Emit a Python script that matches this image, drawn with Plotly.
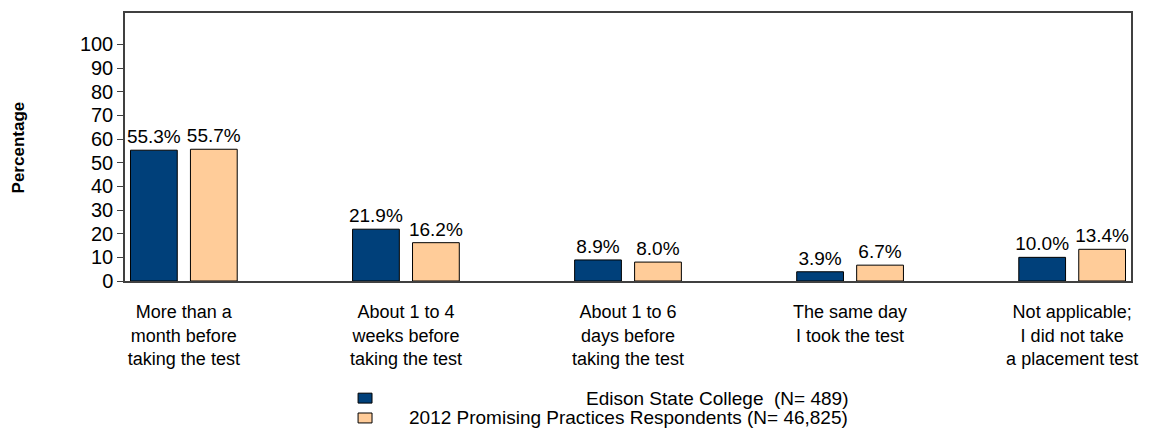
import plotly.graph_objects as go

categories = [
    "More than a<br>month before<br>taking the test",
    "About 1 to 4<br>weeks before<br>taking the test",
    "About 1 to 6<br>days before<br>taking the test",
    "The same day<br>I took the test",
    "Not applicable;<br>I did not take<br>a placement test",
]
edison = [55.3, 21.9, 8.9, 3.9, 10.0]
promising = [55.7, 16.2, 8.0, 6.7, 13.4]
series_names = ["Edison State College\u00a0 (N= 489)",
                "2012 Promising Practices Respondents (N= 46,825)"]
colors = ["#00407A", "#FFCC99"]
y_ticks = list(range(0, 101, 10))

W, H = 1149, 429
L, R, T, B = 125, 14, 11, 148
PW, PH = W - L - R, H - T - B

def px(x):
    return (x - L) / PW

def py(y):
    return (H - B - y) / PH

FONT = "Arial, Liberation Sans, sans-serif"
xs = list(range(len(categories)))

fig = go.Figure()
for name, vals, col in zip(series_names, [edison, promising], colors):
    fig.add_trace(go.Bar(
        x=xs, y=vals, name=name,
        marker=dict(color=col, line=dict(color="#000000", width=1)),
        text=[f"{v:.1f}%" for v in vals],
        textposition="outside",
        constraintext="none",
        textfont=dict(family=FONT, size=19, color="#000000"),
        cliponaxis=False,
        showlegend=False,
    ))

fig.update_layout(
    width=W, height=H,
    margin=dict(l=L, r=R, t=T, b=B),
    paper_bgcolor="white", plot_bgcolor="white",
    barmode="group", bargap=0.46, bargroupgap=0.22,
    font=dict(family=FONT, color="#000000"),
    xaxis=dict(
        tickmode="array", tickvals=xs, ticktext=categories,
        range=[-0.265, 4.265],
        showline=True, linecolor="#404040", linewidth=1.5, mirror=True,
        ticks="", showgrid=False, zeroline=False,
        tickfont=dict(family=FONT, size=18, color="#000000"),
        ticklabelstandoff=14,
    ),
    yaxis=dict(
        range=[0, 113.3],
        tickmode="array", tickvals=y_ticks, ticktext=[str(v) for v in y_ticks],
        showline=True, linecolor="#404040", linewidth=1.5, mirror=True,
        ticks="outside", ticklen=6, tickcolor="#404040",
        showgrid=False, zeroline=False,
        tickfont=dict(family=FONT, size=20, color="#000000"),
    ),
)

# y-axis title
fig.add_annotation(
    x=px(18), y=0.5, xref="paper", yref="paper",
    text="<b>Percentage</b>", textangle=-90, showarrow=False,
    font=dict(family=FONT, size=17, color="#000000"),
    xanchor="center", yanchor="middle",
)

# legend (squares + right-aligned text)
for i, (name, col) in enumerate(zip(series_names, colors)):
    yc = 399 + 20 * i
    fig.add_shape(
        type="rect", xref="paper", yref="paper",
        x0=px(359), x1=px(373), y0=py(yc - 5), y1=py(yc + 5),
        fillcolor=col, line=dict(color="#000000", width=1),
    )
    fig.add_annotation(
        x=px(853), y=py(yc), xref="paper", yref="paper",
        text=name, showarrow=False, xanchor="right", yanchor="middle",
        font=dict(family=FONT, size=19, color="#000000"),
    )

fig.write_html("out.html",
               config={"displayModeBar": False},
               post_script="document.body.style.margin='0';document.body.style.overflow='hidden';")
